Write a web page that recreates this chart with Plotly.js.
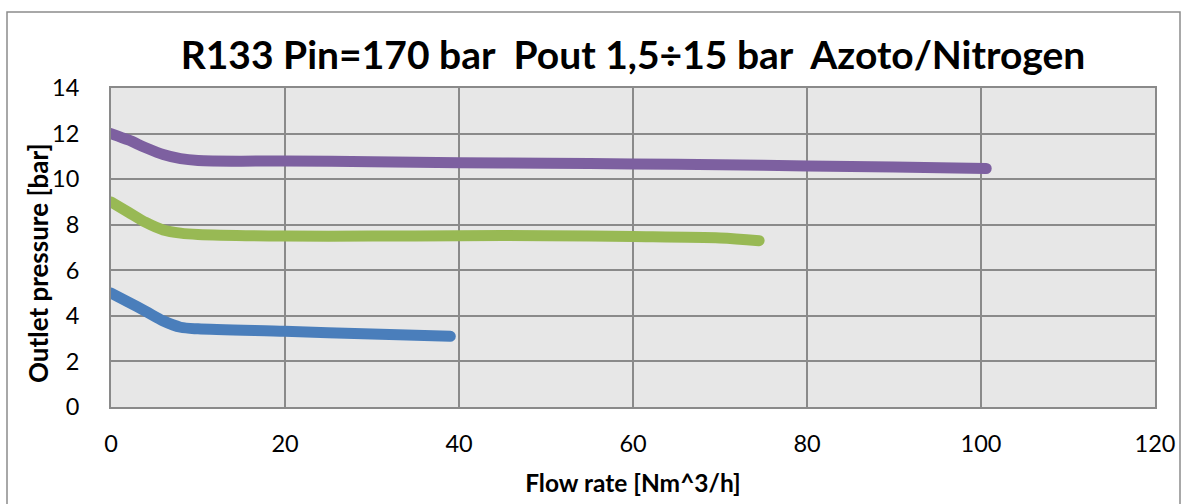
<!DOCTYPE html>
<html>
<head>
<meta charset="utf-8">
<script src="https://cdn.plot.ly/plotly-3.0.1.min.js"></script>
<style>
html,body{margin:0;padding:0;background:#fff;}
path.js-line{stroke-linecap:round !important;stroke-linejoin:round !important;}
</style>
</head>
<body>
<div id="chart" style="width:1187px;height:504px;"></div>
<script>
// Series
const blueX = [0, 2, 4, 6, 8, 10, 20, 30, 39];
const blueY = [5.0, 4.6, 4.2, 3.78, 3.5, 3.43, 3.32, 3.2, 3.1];

const greenX = [0, 2, 4, 6, 8, 10, 20, 30, 40, 50, 60, 70, 74.5];
const greenY = [9.0, 8.55, 8.1, 7.77, 7.63, 7.57, 7.5, 7.5, 7.52, 7.52, 7.48, 7.42, 7.3];

const purpleX = [0, 2, 4, 6, 8, 10, 15, 20, 30, 40, 50, 60, 70, 80, 90, 100.6];
const purpleY = [12.0, 11.72, 11.38, 11.08, 10.9, 10.82, 10.79, 10.8, 10.76, 10.72, 10.7, 10.67, 10.63, 10.58, 10.53, 10.47];

const xTicks = [0, 20, 40, 60, 80, 100, 120];
const yTicks = [0, 2, 4, 6, 8, 10, 12, 14];

const titleText = "R133 Pin=170 bar  Pout 1,5÷15 bar  Azoto/Nitrogen";
const xTitle = "Flow rate [Nm^3/h]";
const yTitle = "Outlet pressure [bar]";

const FONT = "Lato, 'Open Sans', sans-serif";

function line(x, y, color) {
  return {x: x, y: y, type: 'scatter', mode: 'lines',
    line: {color: color, width: 11, shape: 'spline', smoothing: 0.8},
    hoverinfo: 'skip', showlegend: false};
}

const data = [
  line(blueX, blueY, '#4a7ebb'),
  line(greenX, greenY, '#98b954'),
  line(purpleX, purpleY, '#7d60a0')
];

const layout = {
  width: 1187, height: 504,
  margin: {l: 111, r: 32, t: 88, b: 97},
  paper_bgcolor: '#ffffff',
  plot_bgcolor: '#e7e7e7',
  font: {family: FONT, color: '#000'},
  title: {text: titleText, font: {family: FONT, size: 39, color: '#000', weight: 'bold'},
    x: 0.5, xref: 'paper', xanchor: 'center', y: 1 - 55/504, yref: 'container', yanchor: 'middle'},
  xaxis: {
    range: [0, 120], tickvals: xTicks, ticktext: xTicks.map(String),
    showgrid: true, gridcolor: '#8a8a8a', gridwidth: 2,
    zeroline: false, showline: true, linecolor: '#8a8a8a', linewidth: 2, mirror: true,
    ticks: '', ticklabelstandoff: 15,
    tickfont: {family: FONT, size: 23.5, color: '#000'},
    title: {text: xTitle, font: {family: FONT, size: 24.5, color: '#000', weight: 'bold'}, standoff: 19}
  },
  yaxis: {
    range: [0, 14], tickvals: yTicks, ticktext: yTicks.map(String),
    showgrid: true, gridcolor: '#8a8a8a', gridwidth: 2,
    zeroline: false, showline: true, linecolor: '#8a8a8a', linewidth: 2, mirror: true,
    ticks: '', ticklabelstandoff: 25,
    tickfont: {family: FONT, size: 23.5, color: '#000'}
  },
  annotations: [{
    text: '<b>' + yTitle + '</b>', textangle: -90, showarrow: false,
    xref: 'paper', yref: 'paper', x: (38 - 111) / 1044, y: (407 - 263) / 319,
    xanchor: 'center', yanchor: 'middle',
    font: {family: FONT, size: 26, color: '#000'}
  }],
  shapes: [{
    type: 'rect', xref: 'paper', yref: 'paper',
    x0: (7 - 111) / 1044, x1: (1180 - 111) / 1044,
    y0: -0.4, y1: (407 - 12) / 319,
    line: {color: '#8c8c8c', width: 1.5}, fillcolor: 'rgba(0,0,0,0)', layer: 'below'
  }]
};

Plotly.newPlot('chart', data, layout, {staticPlot: true, displayModeBar: false});
</script>
</body>
</html>
